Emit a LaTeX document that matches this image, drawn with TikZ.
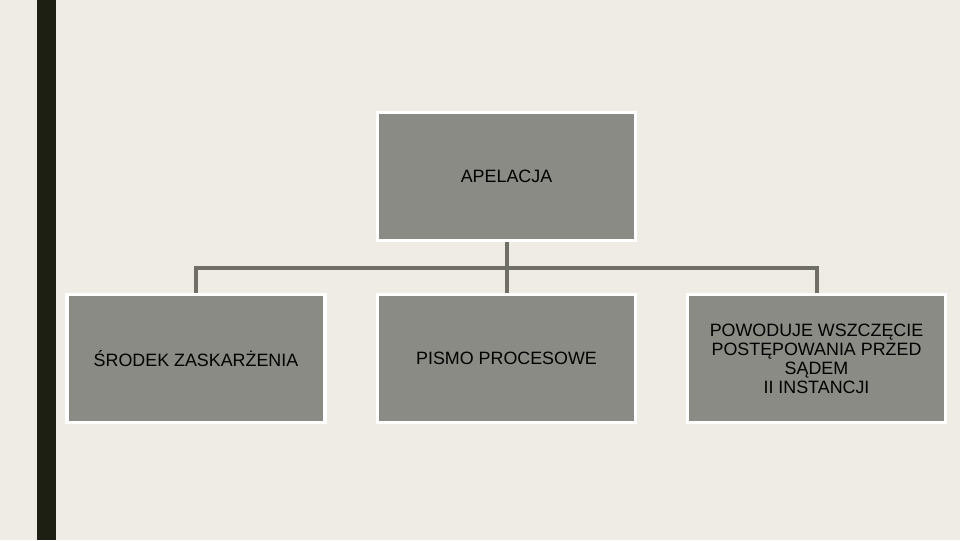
\documentclass[tikz,border=0pt]{standalone}
\usepackage{fontspec}
\setmainfont{Liberation Sans}
\usetikzlibrary{positioning,calc}
\definecolor{tlo}{RGB}{238,236,229}
\definecolor{pasek}{RGB}{29,31,19}
\definecolor{szary}{RGB}{139,139,133}
\definecolor{linia}{RGB}{111,111,104}
\tikzset{
  pole/.style={rectangle,draw=white,line width=2.4pt,fill=szary,
    minimum width=193.5pt,minimum height=96.5pt,align=center,
    font=\fontsize{13.4}{14.3}\selectfont,text=black,inner sep=2pt},
  lacz/.style={draw=linia,line width=3pt},
}

\begin{document}
\begin{tikzpicture}[x=0.75pt,y=-0.75pt]
  \fill[tlo] (0,0) rectangle (960,540);
  \useasboundingbox (0,0) rectangle (960,540);
  \fill[pasek] (37,0) rectangle (56,540);
  \node[pole] (apel) at (506.5,176.5) {APELACJA};
  \node[pole] (srod) at (196,358.5) {ŚRODEK ZASKARŻENIA};
  \node[pole] (pismo) at (506.5,358.5) {PISMO PROCESOWE};
  \node[pole] (skut) at (816.5,358.5) {POWODUJE WSZCZĘCIE\\ POSTĘPOWANIA PRZED\\ SĄDEM\\ II INSTANCJI};
  \coordinate (szyna) at (506.5,268);
  \draw[lacz] (apel.south) -- (pismo.north);
  \draw[lacz] (srod.north) -- (srod.north |- szyna) -| (skut.north);
\end{tikzpicture}
\end{document}
